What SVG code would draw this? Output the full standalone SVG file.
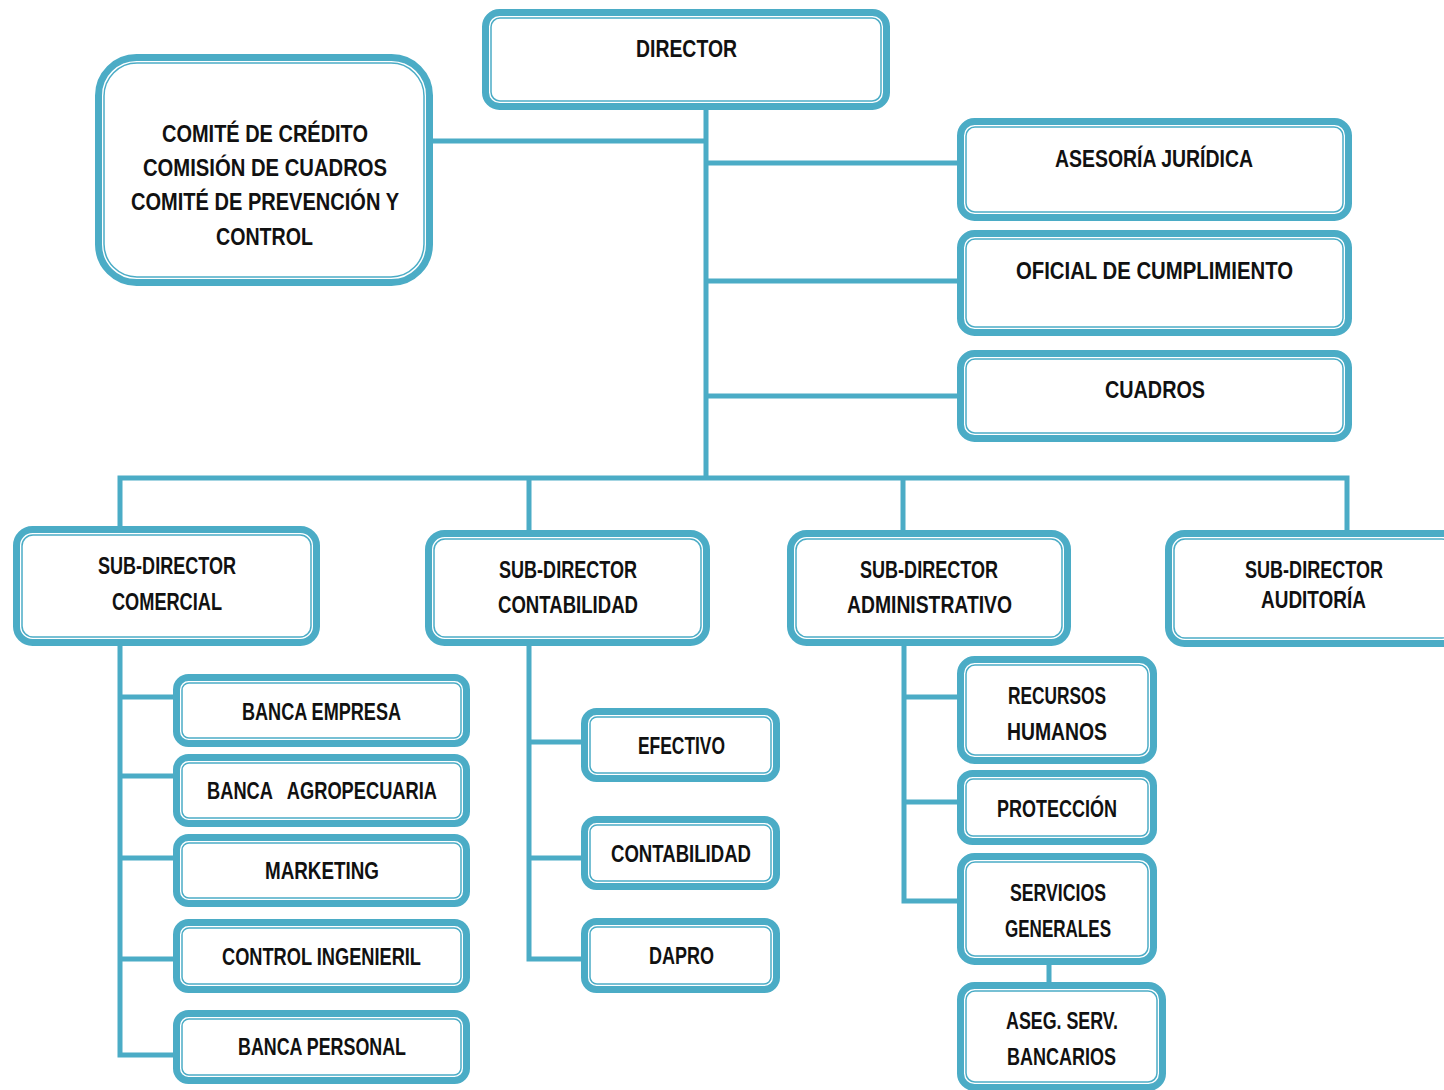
<svg xmlns="http://www.w3.org/2000/svg" width="1444" height="1090" viewBox="0 0 1444 1090">
<style>
.o{fill:#fff;stroke:#4BACC6;stroke-width:7}
.i{fill:none;stroke:#4BACC6;stroke-width:1.5}
.c{fill:none;stroke:#4BACC6;stroke-width:5;stroke-linecap:square}
text{font-family:"Liberation Sans",Arial,sans-serif;font-weight:bold;font-size:23px;fill:#111;text-anchor:middle;white-space:pre}
</style>
<rect width="1444" height="1090" fill="#fff"/>
<g id="connectors">
<path class="c" d="M706 110V478M433 141H706M706 163H957M706 281H957M706 396H957M120 478H1347M120 478V526M529 478V530M903 478V530M1347 478V530"/>
<path class="c" d="M120 646V1055M120 697H173M120 776H173M120 858H173M120 959H173M120 1055H173"/>
<path class="c" d="M529 646V959M529 742H581M529 858H581M529 959H581"/>
<path class="c" d="M904 646V901M904 697H957M904 802H957M904 901H957M1049 965V982"/>
</g>
<g id="director"><rect class="o" x="485.5" y="12.5" width="401" height="94" rx="14"/><rect class="i" x="491" y="18" width="390" height="83" rx="9"/><text x="686.5" y="57" textLength="101" lengthAdjust="spacingAndGlyphs">DIRECTOR</text></g>
<g id="comite"><rect class="o" x="98.5" y="57.5" width="331" height="225" rx="38"/><rect class="i" x="104" y="63" width="320" height="214" rx="33"/>
<text x="265" y="142" textLength="206" lengthAdjust="spacingAndGlyphs">COMITÉ DE CRÉDITO</text>
<text x="265" y="176" textLength="244" lengthAdjust="spacingAndGlyphs">COMISIÓN DE CUADROS</text>
<text x="265" y="210" textLength="268" lengthAdjust="spacingAndGlyphs">COMITÉ DE PREVENCIÓN Y</text>
<text x="264.5" y="245" textLength="97" lengthAdjust="spacingAndGlyphs">CONTROL</text></g>
<g id="asesoria"><rect class="o" x="960.5" y="121.5" width="388" height="96" rx="14"/><rect class="i" x="966" y="127" width="377" height="85" rx="9"/><text x="1154" y="167" textLength="198" lengthAdjust="spacingAndGlyphs">ASESORÍA JURÍDICA</text></g>
<g id="oficial"><rect class="o" x="960.5" y="233.5" width="388" height="99" rx="14"/><rect class="i" x="966" y="239" width="377" height="88" rx="9"/><text x="1154.5" y="279" textLength="277" lengthAdjust="spacingAndGlyphs">OFICIAL DE CUMPLIMIENTO</text></g>
<g id="cuadros"><rect class="o" x="960.5" y="353.5" width="388" height="85" rx="14"/><rect class="i" x="966" y="359" width="377" height="74" rx="9"/><text x="1155" y="398" textLength="100" lengthAdjust="spacingAndGlyphs">CUADROS</text></g>
<g id="sd-comercial"><rect class="o" x="16.5" y="529.5" width="300" height="113" rx="16"/><rect class="i" x="22" y="535" width="289" height="102" rx="11"/><text x="167" y="574" textLength="138" lengthAdjust="spacingAndGlyphs">SUB-DIRECTOR</text><text x="167" y="610" textLength="110" lengthAdjust="spacingAndGlyphs">COMERCIAL</text></g>
<g id="sd-contabilidad"><rect class="o" x="428.5" y="533.5" width="278" height="109" rx="16"/><rect class="i" x="434" y="539" width="267" height="98" rx="11"/><text x="568" y="578" textLength="138" lengthAdjust="spacingAndGlyphs">SUB-DIRECTOR</text><text x="568" y="613" textLength="140" lengthAdjust="spacingAndGlyphs">CONTABILIDAD</text></g>
<g id="sd-administrativo"><rect class="o" x="790.5" y="533.5" width="277" height="109" rx="16"/><rect class="i" x="796" y="539" width="266" height="98" rx="11"/><text x="929" y="578" textLength="138" lengthAdjust="spacingAndGlyphs">SUB-DIRECTOR</text><text x="929.5" y="613" textLength="165" lengthAdjust="spacingAndGlyphs">ADMINISTRATIVO</text></g>
<g id="sd-auditoria"><rect class="o" x="1168.5" y="533.5" width="290" height="110" rx="16"/><rect class="i" x="1174" y="539" width="279" height="99" rx="11"/><text x="1314" y="578" textLength="138" lengthAdjust="spacingAndGlyphs">SUB-DIRECTOR</text><text x="1313.5" y="608" textLength="105" lengthAdjust="spacingAndGlyphs">AUDITORÍA</text></g>
<g id="banca-empresa"><rect class="o" x="176.5" y="677.5" width="290" height="66" rx="12"/><rect class="i" x="182" y="683" width="279" height="55" rx="7"/><text x="321.5" y="720" textLength="159" lengthAdjust="spacingAndGlyphs">BANCA EMPRESA</text></g>
<g id="banca-agro"><rect class="o" x="176.5" y="757.5" width="290" height="66" rx="12"/><rect class="i" x="182" y="763" width="279" height="55" rx="7"/><text x="322" y="799" textLength="230" lengthAdjust="spacingAndGlyphs">BANCA   AGROPECUARIA</text></g>
<g id="marketing"><rect class="o" x="176.5" y="837.5" width="290" height="66" rx="12"/><rect class="i" x="182" y="843" width="279" height="55" rx="7"/><text x="322" y="879" textLength="114" lengthAdjust="spacingAndGlyphs">MARKETING</text></g>
<g id="control-ing"><rect class="o" x="176.5" y="922.5" width="290" height="67" rx="12"/><rect class="i" x="182" y="928" width="279" height="56" rx="7"/><text x="321.5" y="965" textLength="199" lengthAdjust="spacingAndGlyphs">CONTROL INGENIERIL</text></g>
<g id="banca-personal"><rect class="o" x="176.5" y="1013.5" width="290" height="67" rx="12"/><rect class="i" x="182" y="1019" width="279" height="56" rx="7"/><text x="322" y="1055" textLength="168" lengthAdjust="spacingAndGlyphs">BANCA PERSONAL</text></g>
<g id="efectivo"><rect class="o" x="584.5" y="711.5" width="192" height="67" rx="12"/><rect class="i" x="590" y="717" width="181" height="56" rx="7"/><text x="681.5" y="754" textLength="87" lengthAdjust="spacingAndGlyphs">EFECTIVO</text></g>
<g id="contabilidad"><rect class="o" x="584.5" y="819.5" width="192" height="67" rx="12"/><rect class="i" x="590" y="825" width="181" height="56" rx="7"/><text x="681" y="862" textLength="140" lengthAdjust="spacingAndGlyphs">CONTABILIDAD</text></g>
<g id="dapro"><rect class="o" x="584.5" y="921.5" width="192" height="68" rx="12"/><rect class="i" x="590" y="927" width="181" height="57" rx="7"/><text x="681.5" y="964" textLength="65" lengthAdjust="spacingAndGlyphs">DAPRO</text></g>
<g id="rrhh"><rect class="o" x="960.5" y="659.5" width="193" height="101" rx="14"/><rect class="i" x="966" y="665" width="182" height="90" rx="9"/><text x="1057" y="704" textLength="98" lengthAdjust="spacingAndGlyphs">RECURSOS</text><text x="1057" y="740" textLength="100" lengthAdjust="spacingAndGlyphs">HUMANOS</text></g>
<g id="proteccion"><rect class="o" x="960.5" y="773.5" width="193" height="68" rx="12"/><rect class="i" x="966" y="779" width="182" height="57" rx="7"/><text x="1057" y="817" textLength="120" lengthAdjust="spacingAndGlyphs">PROTECCIÓN</text></g>
<g id="servicios"><rect class="o" x="960.5" y="856.5" width="193" height="105" rx="14"/><rect class="i" x="966" y="862" width="182" height="94" rx="9"/><text x="1058" y="901" textLength="96" lengthAdjust="spacingAndGlyphs">SERVICIOS</text><text x="1058" y="937" textLength="106" lengthAdjust="spacingAndGlyphs">GENERALES</text></g>
<g id="aseg"><rect class="o" x="960.5" y="985.5" width="202" height="102" rx="14"/><rect class="i" x="966" y="991" width="191" height="91" rx="9"/><text x="1062" y="1029" textLength="112" lengthAdjust="spacingAndGlyphs">ASEG. SERV.</text><text x="1061.5" y="1065" textLength="109" lengthAdjust="spacingAndGlyphs">BANCARIOS</text></g>
</svg>
